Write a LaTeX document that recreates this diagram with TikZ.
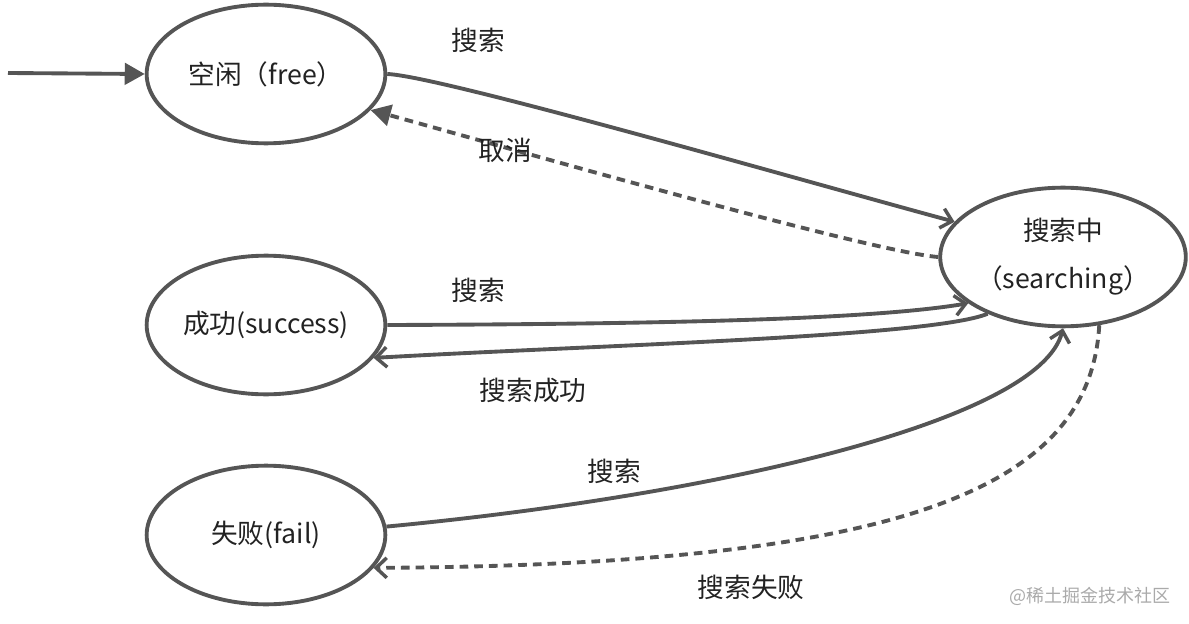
\documentclass[tikz,border=0pt]{standalone}
\usepackage{fontspec}
\setmainfont{Noto Sans CJK SC}
\usetikzlibrary{arrows.meta,shapes.geometric}
\definecolor{ln}{HTML}{555555}
\definecolor{tx}{HTML}{222222}
\definecolor{wm}{HTML}{AAAAAA}
\tikzset{
  state/.style={ellipse,draw=ln,line width=2.9pt,minimum width=179pt,minimum height=104pt,inner sep=0pt,text=tx,font=\fontsize{20}{36}\selectfont,align=center},
  conn/.style={draw=ln,line width=2.9pt},
  dsh/.style={conn,dash pattern=on 6.5pt off 4.5pt},
  open/.style={-{Straight Barb[length=8pt,width=15pt,line width=2.6pt]}},
  fill/.style={-{Triangle[length=15pt,width=16pt]}},
  lbl/.style={text=tx,font=\fontsize{20}{24}\selectfont,inner sep=0pt}
}
\begin{document}
\begin{tikzpicture}[x=0.75pt,y=-0.75pt]
\path[use as bounding box] (0,0) rectangle (1189,624);
\node[state] (free) at (266,74) {空闲（free）};
\node[state] (srch) at (1063,257) {搜索中\\（searching）};
\node[state] (succ) at (266,325) {成功(success)};
\node[state] (fail) at (266,535) {失败(fail)};
\coordinate (start) at (8,73);
\draw[conn,fill] (start) -- (free.west);
% edges
\draw[conn,open] (free.0) .. controls (440,76) and (800,180) .. (srch.162);
\draw[dsh,fill] (srch.180) .. controls (870,252) and (480,140) .. (free.-19);
\draw[conn,open] (succ.0) .. controls (700,324) and (880,318) .. (srch.206);
\draw[conn,open] (srch.217) .. controls (930,337) and (600,345) .. (succ.-17);
\draw[conn,open] (fail.4) .. controls (720,495) and (1040,420) .. (srch.270);
\draw[dsh,open] (srch.-62) .. controls (1090,490) and (900,565) .. (fail.-17);
% labels
\node[lbl] (l1) at (478,40) {搜索};
\node[lbl] (l2) at (505,150) {取消};
\node[lbl] (l3) at (478,290) {搜索};
\node[lbl] (l4) at (533,390) {搜索成功};
\node[lbl] (l5) at (614,471) {搜索};
\node[lbl] (l6) at (751,587) {搜索失败};
\node[text=wm,font=\fontsize{13.5}{16}\selectfont,inner sep=0pt] (wmk) at (1090,596) {@稀土掘金技术社区};
\end{tikzpicture}
\end{document}
